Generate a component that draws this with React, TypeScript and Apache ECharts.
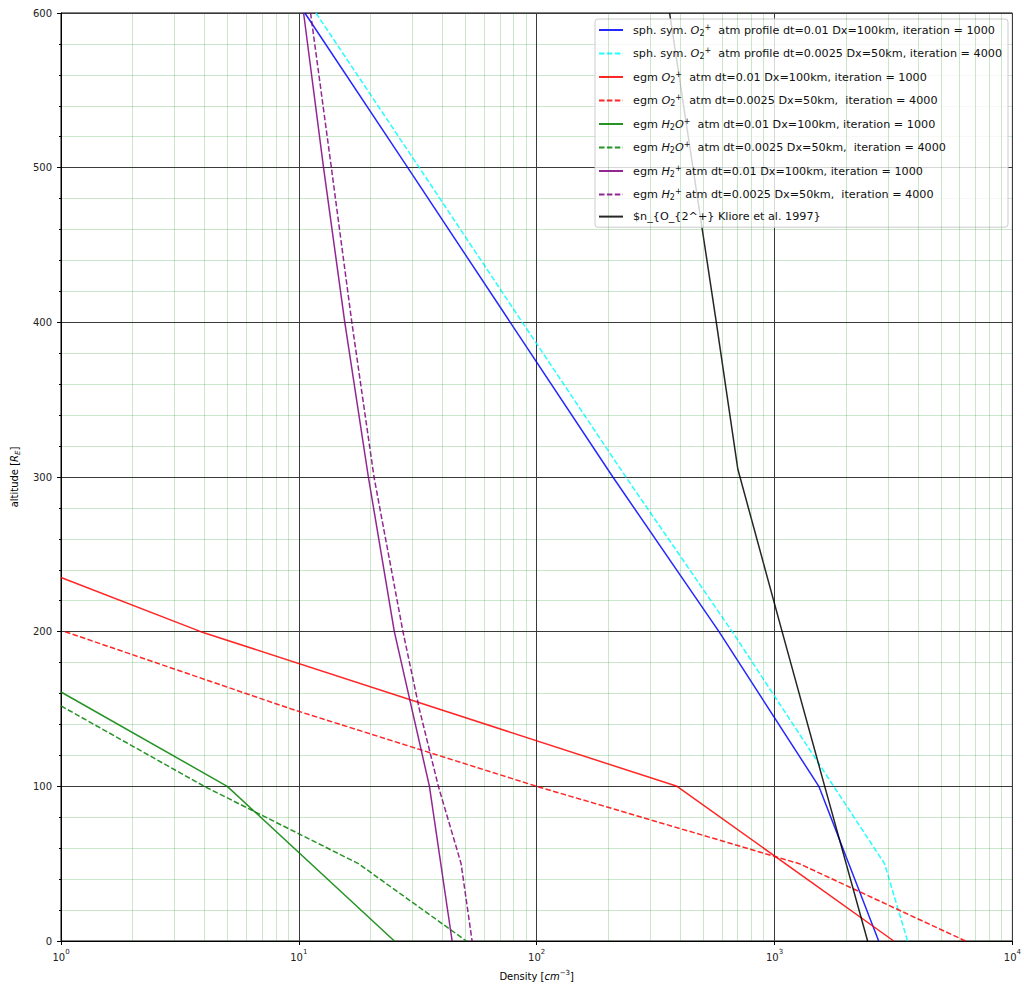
import React, { useEffect, useRef } from "react";
import * as echarts from "echarts";

const FONT = "'DejaVu Sans', 'Liberation Sans', sans-serif";

// ---- data (altitude in R_E, density in cm^-3) ----
const sphSolidAlt = [600, 500, 400, 300, 200, 100, 0];
const sphSolidDen = [10.6, 28.7, 77.4, 209, 584, 1535, 2740];

const sphDashAlt = [600, 500, 400, 300, 200, 100, 50, 0];
const sphDashDen = [11.8, 32.1, 87, 237, 664, 1773, 2900, 3625];

const egmO2SolidAlt = [235, 200, 100, 0];
const egmO2SolidDen = [1, 3.87, 389, 3170];

const egmO2DashAlt = [200, 150, 100, 50, 0];
const egmO2DashDen = [1.04, 9.3, 100, 1270, 6350];

const egmH2OSolidAlt = [161, 100, 0];
const egmH2OSolidDen = [1, 5.0, 25.2];

const egmH2ODashAlt = [152, 100, 50, 0];
const egmH2ODashDen = [1, 4.0, 17.8, 50.6];

const egmH2SolidAlt = [600, 500, 400, 300, 200, 100, 0];
const egmH2SolidDen = [10.47, 12.7, 15.6, 19.6, 25.2, 35.4, 44.1];

const egmH2DashAlt = [600, 500, 400, 300, 200, 150, 100, 50, 0];
const egmH2DashDen = [11.2, 13.7, 16.7, 20.7, 27.4, 32.1, 38.6, 48.1, 53.5];

const klioreAlt = [600, 400, 305, 200, 100, 0];
const klioreDen = [362, 569, 701, 1076, 1625, 2462];

const seriesNames = [
  "sph1", "sph2", "o2a", "o2b", "h2oa", "h2ob", "h2a", "h2b", "kliore",
];

const legendLabels: Record<string, string> = {
  sph1: "{f|sph. sym. }{i|O}{sub|2}{sup|+}{t|  atm profile dt=0.01 Dx=100km, iteration = 1000}",
  sph2: "{f|sph. sym. }{i|O}{sub|2}{sup|+}{t|  atm profile dt=0.0025 Dx=50km, iteration = 4000}",
  o2a: "{f|egm }{i|O}{sub|2}{sup|+}{t|  atm dt=0.01 Dx=100km, iteration = 1000}",
  o2b: "{f|egm }{i|O}{sub|2}{sup|+}{t|  atm dt=0.0025 Dx=50km,  iteration = 4000}",
  h2oa: "{f|egm }{i|H}{sub|2}{i|O}{sup|+}{t|  atm dt=0.01 Dx=100km, iteration = 1000}",
  h2ob: "{f|egm }{i|H}{sub|2}{i|O}{sup|+}{t|  atm dt=0.0025 Dx=50km,  iteration = 4000}",
  h2a: "{f|egm }{i|H}{sub|2}{sup|+}{t| atm dt=0.01 Dx=100km, iteration = 1000}",
  h2b: "{f|egm }{i|H}{sub|2}{sup|+}{t| atm dt=0.0025 Dx=50km,  iteration = 4000}",
  kliore: "{f|$n_\u007BO_\u007B2^+\u007D\u007D Kliore et al. 1997}",
};

const decades = [1, 10, 100, 1000];
const minorMultipliers = [2, 3, 4, 5, 6, 7, 8, 9];

function pairs(xs: number[], ys: number[]) {
  return ys.map((y, i) => [xs[i], y]);
}

export default function App() {
  const ref = useRef<HTMLDivElement>(null);

  useEffect(() => {
    if (!ref.current) return;
    const chart = echarts.init(ref.current, undefined, { renderer: "svg" });

    const minorX: any[] = [];
    decades.forEach((d) => minorMultipliers.forEach((m) => minorX.push({ xAxis: d * m })));

    const mk = (name: string, xs: number[], ys: number[], color: string, dashed: boolean) => ({
      name,
      type: "line",
      data: pairs(xs, ys),
      symbol: "none",
      showSymbol: false,
      smooth: false,
      clip: true,
      color,
      lineStyle: {
        color,
        width: 1.5,
        opacity: 0.85,
        type: dashed ? [5.5, 2.4] : "solid",
      },
      z: 3,
    });

    const FS = 11.2;
    const richLegend = {
      f: { fontFamily: FONT, fontSize: FS, color: "#111", padding: [0, 0, 0, 5], lineHeight: 14 },
      t: { fontFamily: FONT, fontSize: FS, color: "#111", lineHeight: 14 },
      i: { fontFamily: FONT, fontSize: FS, fontStyle: "italic", color: "#111", lineHeight: 14 },
      sub: { fontFamily: FONT, fontSize: 8, color: "#111", verticalAlign: "bottom", lineHeight: 14 },
      sup: { fontFamily: FONT, fontSize: 8, color: "#111", verticalAlign: "top", lineHeight: 14 },
    };

    chart.setOption({
      animation: false,
      backgroundColor: "#fff",
      grid: {
        left: 61,
        top: 13,
        right: 10,
        bottom: 45,
        show: true,
        borderColor: "#000",
        borderWidth: 1,
        backgroundColor: "transparent",
      },
      legend: {
        data: seriesNames,
        orient: "vertical",
        left: 595,
        top: 19,
        itemWidth: 24,
        itemHeight: 14,
        itemGap: 9.5,
        padding: [4, 6, 5, 3],
        backgroundColor: "rgba(255,255,255,0.8)",
        borderColor: "#cccccc",
        borderWidth: 1,
        borderRadius: 3,
        selectedMode: false,
        itemStyle: { color: "transparent", borderColor: "transparent", borderWidth: 0, opacity: 0 },
        formatter: (name: string) => legendLabels[name],
        textStyle: { fontFamily: FONT, fontSize: FS, color: "#111", rich: richLegend },
      },
      xAxis: {
        type: "log",
        logBase: 10,
        min: 1,
        max: 10000,
        name: "{n|Density [}{i|cm}{s|\u22123}{n|]}",
        nameLocation: "middle",
        nameGap: 28,
        nameTextStyle: {
          rich: {
            n: { fontFamily: FONT, fontSize: 10, color: "#000" },
            i: { fontFamily: FONT, fontSize: 10, color: "#000", fontStyle: "italic" },
            s: { fontFamily: FONT, fontSize: 7, color: "#000", verticalAlign: "top", lineHeight: 14 },
          },
        },
        axisLine: { show: true, onZero: false, lineStyle: { color: "#000", width: 1 } },
        axisTick: { show: true, length: 4, lineStyle: { color: "#000" } },
        axisLabel: {
          margin: 7,
          formatter: (v: number) => `{b|10}{e|${Math.round(Math.log10(v))}}`,
          rich: {
            b: { fontFamily: FONT, fontSize: 10, color: "#222", lineHeight: 14, verticalAlign: "bottom" },
            e: { fontFamily: FONT, fontSize: 7, color: "#222", lineHeight: 14, verticalAlign: "top" },
          },
        },
        splitLine: { show: true, lineStyle: { color: "#3a3a3a", width: 1 } },
      },
      yAxis: {
        type: "value",
        min: 0,
        max: 600,
        interval: 100,
        name: "{n|altitude [}{i|R}{s|E}{n|]}",
        nameLocation: "middle",
        nameGap: 40,
        nameTextStyle: {
          rich: {
            n: { fontFamily: FONT, fontSize: 10, color: "#000" },
            i: { fontFamily: FONT, fontSize: 10, color: "#000", fontStyle: "italic" },
            s: { fontFamily: FONT, fontSize: 7, color: "#000", fontStyle: "italic", verticalAlign: "bottom", lineHeight: 14 },
          },
        },
        axisLine: { show: true, lineStyle: { color: "#000", width: 1 } },
        axisTick: { show: true, length: 4, lineStyle: { color: "#000" } },
        minorTick: { show: true, splitNumber: 5, length: 2, lineStyle: { color: "#000" } },
        minorSplitLine: { show: true, lineStyle: { color: "rgba(0,128,0,0.2)", width: 1 } },
        axisLabel: { margin: 9, fontFamily: FONT, fontSize: 10, color: "#222" },
        splitLine: { show: true, lineStyle: { color: "#3a3a3a", width: 1 } },
      },
      series: [
        {
          name: "_minorgrid",
          type: "line",
          data: [],
          symbol: "none",
          silent: true,
          z: 1,
          markLine: {
            silent: true,
            symbol: ["none", "none"],
            label: { show: false },
            lineStyle: { color: "rgba(0,128,0,0.2)", width: 1, type: "solid" },
            emphasis: { disabled: true },
            data: minorX,
          },
        },
        mk("sph1", sphSolidDen, sphSolidAlt, "#0000ff", false),
        mk("sph2", sphDashDen, sphDashAlt, "#00ffff", true),
        mk("o2a", egmO2SolidDen, egmO2SolidAlt, "#ff0000", false),
        mk("o2b", egmO2DashDen, egmO2DashAlt, "#ff0000", true),
        mk("h2oa", egmH2OSolidDen, egmH2OSolidAlt, "#008000", false),
        mk("h2ob", egmH2ODashDen, egmH2ODashAlt, "#008000", true),
        mk("h2a", egmH2SolidDen, egmH2SolidAlt, "#800080", false),
        mk("h2b", egmH2DashDen, egmH2DashAlt, "#800080", true),
        mk("kliore", klioreDen, klioreAlt, "#000000", false),
      ],
    });

    return () => chart.dispose();
  }, []);

  return (
    <div
      ref={ref}
      style={{ position: "absolute", left: 0, top: 0, width: 1024, height: 986 }}
    />
  );
}
